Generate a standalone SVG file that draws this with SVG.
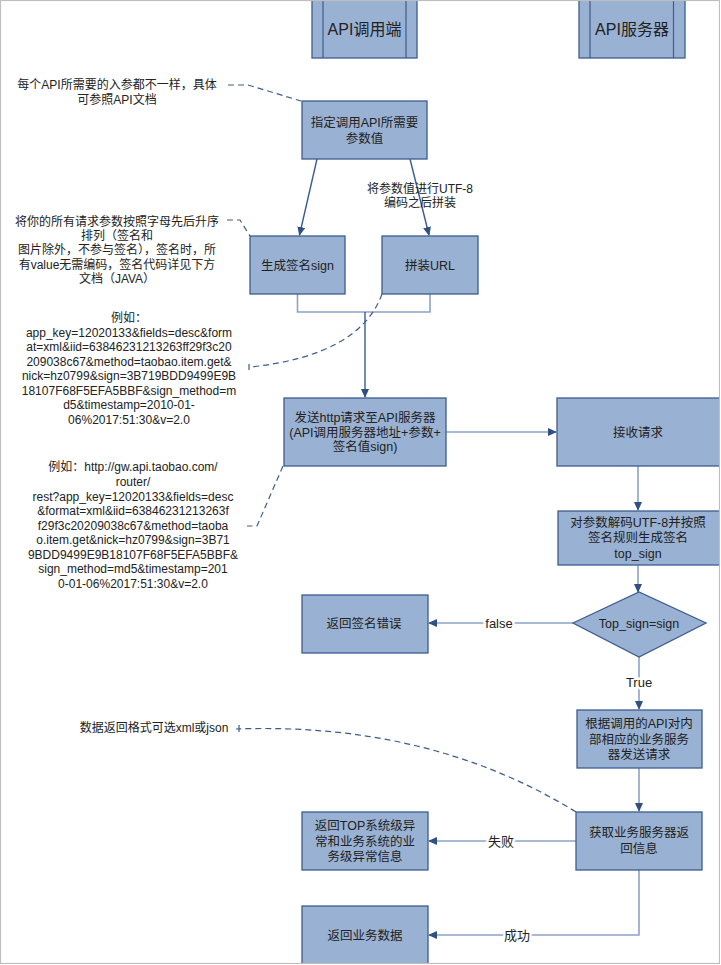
<svg xmlns="http://www.w3.org/2000/svg" width="721" height="965" viewBox="0 0 721 965">
<defs>
<marker id="arr" markerWidth="9" markerHeight="8" refX="8" refY="4" orient="auto" markerUnits="userSpaceOnUse">
<path d="M0,0 L9,4 L0,8 z" fill="#2F5083"/>
</marker>
<style>
text{font-family:"Liberation Sans","Noto Sans CJK SC",sans-serif;fill:#222;text-anchor:middle;}
.box{fill:#99B1D2;stroke:#3D5D8E;stroke-width:1.3;}
.bt{font-size:12.5px;}
.nt{font-size:12px;}
.ht{font-size:16px;}
.lt{fill:none;stroke:#8DA3C8;stroke-width:1.6;}
.dk{fill:none;stroke:#3A5C8F;stroke-width:1.4;}
.da{fill:none;stroke:#3A5C8F;stroke-width:1.2;stroke-dasharray:6,4;}
.lab{font-size:13px;stroke:#fff;stroke-width:5px;paint-order:stroke;stroke-linejoin:round;}
</style>
</defs>
<rect x="0" y="0" width="721" height="965" fill="#fff"/>

<g id="hdr-client">
<rect class="box" x="312" y="-1" width="105" height="59"/>
<line x1="323" y1="0" x2="323" y2="58" stroke="#3D5D8E" stroke-width="1.2"/>
<line x1="406" y1="0" x2="406" y2="58" stroke="#3D5D8E" stroke-width="1.2"/>
<text class="ht" x="364.5" y="35">API调用端</text>
</g>
<g id="hdr-server">
<rect class="box" x="579" y="-1" width="106" height="59"/>
<line x1="590" y1="0" x2="590" y2="58" stroke="#3D5D8E" stroke-width="1.2"/>
<line x1="673.5" y1="0" x2="673.5" y2="58" stroke="#3D5D8E" stroke-width="1.2"/>
<text class="ht" x="632" y="35">API服务器</text>
</g>

<g id="connectors">
<line class="dk" x1="317" y1="159" x2="299.5" y2="235" marker-end="url(#arr)"/>
<line class="dk" x1="410" y1="159" x2="429" y2="235" marker-end="url(#arr)"/>
<polyline class="lt" points="297.5,294 297.5,312 430,312 430,294"/>
<line class="dk" x1="365" y1="312" x2="365" y2="397" stroke-width="2" marker-end="url(#arr)"/>
<line class="lt" x1="446" y1="432" x2="556" y2="432" marker-end="url(#arr)"/>
<line class="lt" x1="638" y1="466" x2="638" y2="510" marker-end="url(#arr)"/>
<line class="lt" x1="638" y1="565" x2="638" y2="592" marker-end="url(#arr)"/>
<line class="lt" x1="573" y1="623" x2="429" y2="623" marker-end="url(#arr)"/>
<line class="lt" x1="639" y1="657" x2="639" y2="709" marker-end="url(#arr)"/>
<line class="lt" x1="639" y1="768" x2="639" y2="811" marker-end="url(#arr)"/>
<line class="lt" x1="576" y1="841" x2="429" y2="841" marker-end="url(#arr)"/>
<polyline class="lt" points="639,870 639,935 429,935" marker-end="url(#arr)"/>
<text class="lab" x="499" y="628">false</text>
<text class="lab" x="639" y="687">True</text>
<text class="lab" x="501" y="846">失败</text>
<text class="lab" x="517" y="940">成功</text>
<polyline class="da" points="228,85 248,85 301,101"/>
<polyline class="da" points="227,220 240,220 250,236"/>
<path class="da" d="M382,294 Q360,355 251,367"/>
<line x1="249" y1="364" x2="249" y2="370" stroke="#3A5C8F" stroke-width="1.2"/>
<polyline class="da" points="283,466 257,526 247,526"/>
<path class="da" d="M576,812 Q430,722 236,729"/>
<line x1="239" y1="725" x2="239" y2="732" stroke="#3A5C8F" stroke-width="1.2"/>
</g>

<g id="n-specify">
<rect class="box" x="302" y="101" width="125" height="58"/>
<text class="bt" x="364.5" y="126.5">指定调用API所需要</text>
<text class="bt" x="364.5" y="142.5">参数值</text>
</g>
<g id="n-sign">
<rect class="box" x="250" y="236" width="95" height="58"/>
<text class="bt" x="297.5" y="269.5">生成签名sign</text>
</g>
<g id="n-url">
<rect class="box" x="382" y="236" width="96" height="58"/>
<text class="bt" x="430" y="269.5">拼装URL</text>
</g>
<g id="n-send">
<rect class="box" x="284" y="398" width="162" height="68"/>
<text class="bt" x="365" y="421.5">发送http请求至API服务器</text>
<text class="bt" x="365" y="436.5">(API调用服务器地址+参数+</text>
<text class="bt" x="365" y="451">签名值sign)</text>
</g>
<g id="n-receive">
<rect class="box" x="557" y="398" width="164" height="68"/>
<text class="bt" x="638" y="436.5">接收请求</text>
</g>
<g id="n-decode">
<rect class="box" x="558" y="511" width="163" height="54"/>
<text class="bt" x="638" y="526.5">对参数解码UTF-8并按照</text>
<text class="bt" x="638" y="541.5">签名规则生成签名</text>
<text class="bt" x="638" y="557.5">top_sign</text>
</g>
<g id="n-check">
<polygon class="box" points="573,623 639,592 706,623 639,657"/>
<text class="bt" x="639" y="627.5">Top_sign=sign</text>
</g>
<g id="n-signerr">
<rect class="box" x="302" y="595" width="126" height="58"/>
<text class="bt" x="364" y="627.5">返回签名错误</text>
</g>
<g id="n-dispatch">
<rect class="box" x="577" y="710" width="125" height="58"/>
<text class="bt" x="639" y="727.5">根据调用的API对内</text>
<text class="bt" x="639" y="743.5">部相应的业务服务</text>
<text class="bt" x="639" y="758.5">器发送请求</text>
</g>
<g id="n-fetch">
<rect class="box" x="576" y="812" width="126" height="58"/>
<text class="bt" x="639" y="837">获取业务服务器返</text>
<text class="bt" x="639" y="852.5">回信息</text>
</g>
<g id="n-toperr">
<rect class="box" x="302" y="812" width="126" height="58"/>
<text class="bt" x="365" y="829.5">返回TOP系统级异</text>
<text class="bt" x="365" y="845.5">常和业务系统的业</text>
<text class="bt" x="365" y="860.5">务级异常信息</text>
</g>
<g id="n-data">
<rect class="box" x="302" y="906" width="126" height="62"/>
<text class="bt" x="365" y="939.5">返回业务数据</text>
</g>

<g id="notes">
<text class="nt" x="117" y="89">每个API所需要的入参都不一样，具体</text>
<text class="nt" x="117" y="104">可参照API文档</text>
<text class="nt" x="420" y="193">将参数值进行UTF-8</text>
<text class="nt" x="420" y="207">编码之后拼装</text>
<text class="nt" x="117" y="226">将你的所有请求参数按照字母先后升序</text>
<text class="nt" x="117" y="239.5">排列（签名和</text>
<text class="nt" x="117" y="254">图片除外，不参与签名），签名时，所</text>
<text class="nt" x="117" y="268.5">有value无需编码，签名代码详见下方</text>
<text class="nt" x="117" y="282.5">文档（JAVA）</text>
<text class="nt" x="129" y="322">例如：</text>
<text class="nt" x="129" y="337">app_key=12020133&amp;fields=desc&amp;form</text>
<text class="nt" x="129" y="351">at=xml&amp;iid=63846231213263ff29f3c20</text>
<text class="nt" x="129" y="365.5">209038c67&amp;method=taobao.item.get&amp;</text>
<text class="nt" x="129" y="380">nick=hz0799&amp;sign=3B719BDD9499E9B</text>
<text class="nt" x="129" y="394.5">18107F68F5EFA5BBF&amp;sign_method=m</text>
<text class="nt" x="129" y="409">d5&amp;timestamp=2010-01-</text>
<text class="nt" x="129" y="423.5">06%2017:51:30&amp;v=2.0</text>
<text class="nt" x="133" y="471">例如：http://gw.api.taobao.com/</text>
<text class="nt" x="133" y="485.5">router/</text>
<text class="nt" x="133" y="500.5">rest?app_key=12020133&amp;fields=desc</text>
<text class="nt" x="133" y="515">&amp;format=xml&amp;iid=63846231213263f</text>
<text class="nt" x="133" y="529.5">f29f3c20209038c67&amp;method=taoba</text>
<text class="nt" x="133" y="544">o.item.get&amp;nick=hz0799&amp;sign=3B71</text>
<text class="nt" x="133" y="558.5">9BDD9499E9B18107F68F5EFA5BBF&amp;</text>
<text class="nt" x="133" y="573">sign_method=md5&amp;timestamp=201</text>
<text class="nt" x="133" y="587.5">0-01-06%2017:51:30&amp;v=2.0</text>
<text class="nt" x="154" y="732">数据返回格式可选xml或json</text>
</g>

<rect x="0.5" y="0.5" width="719" height="963" fill="none" stroke="#BEBEBE" stroke-width="1.2"/>
<rect x="720" y="0" width="1" height="965" fill="#fff"/>
<rect x="0" y="964" width="721" height="1" fill="#fff"/>
</svg>
